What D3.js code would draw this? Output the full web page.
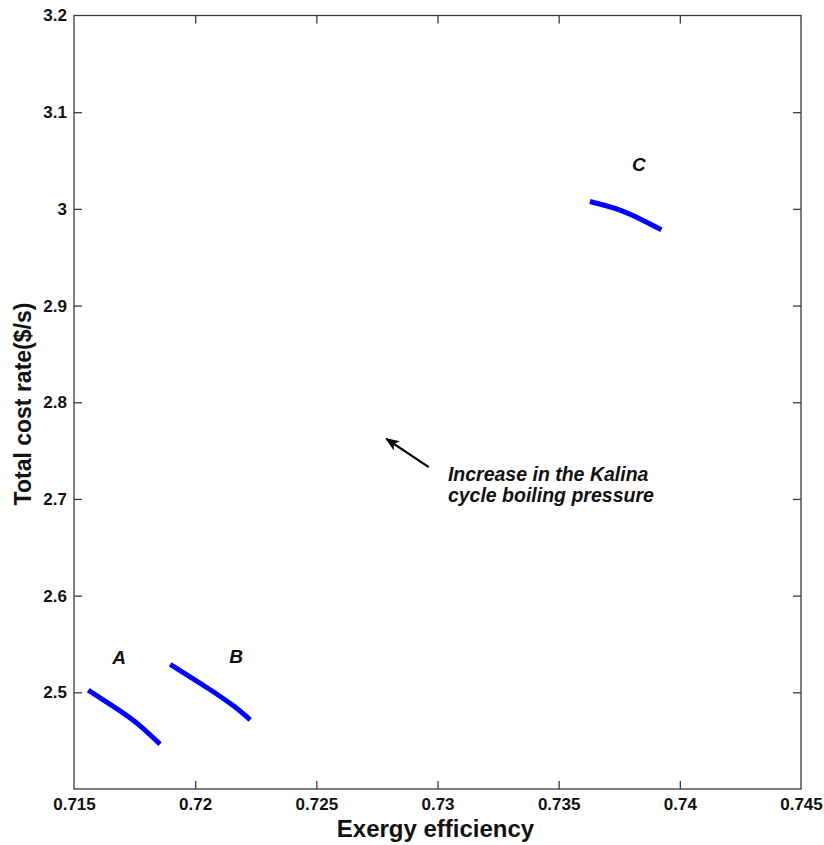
<!DOCTYPE html>
<html>
<head>
<meta charset="utf-8">
<script src="https://cdn.jsdelivr.net/npm/d3@7"></script>
<style>
  body { margin: 0; background: #fff; }
  text { font-family: "Liberation Sans", Arial, sans-serif; }
</style>
</head>
<body>
<svg id="mainsvg" width="824" height="845"></svg>
<script>
// data
let curveA = [[0.71559, 2.5022], [0.7169, 2.4808], [0.71773, 2.4653], [0.71855, 2.4464]];
let curveB = [[0.71897, 2.529], [0.72048, 2.505], [0.72158, 2.486], [0.72227, 2.4715]];
let curveC = [[0.73629, 3.0076], [0.73756, 2.9985], [0.73853, 2.9875], [0.73924, 2.9784]];
let curves = [curveA, curveB, curveC];
let curveLabels = [
    {name: "A", x: 0.71686, y: 2.536},
    {name: "B", x: 0.72169, y: 2.537},
    {name: "C", x: 0.73831, y: 3.0456}
];
let xTicks = [0.715, 0.72, 0.725, 0.73, 0.735, 0.74, 0.745];
let yTicks = [2.5, 2.6, 2.7, 2.8, 2.9, 3, 3.1, 3.2];
let arrowFrom = [0.72964, 2.7329];
let arrowTo = [0.72789, 2.7622];
let noteLines = ["Increase in the Kalina", "cycle boiling pressure"];
let noteAt = [0.73043, 2.7185];

let svg = d3.select("#mainsvg");
let plotL = 74, plotR = 801, plotT = 15.5, plotB = 789;

let x = d3.scaleLinear().domain([0.715, 0.745]).range([plotL, plotR]);
let y = d3.scaleLinear().domain([2.4, 3.2]).range([plotB, plotT]);

let axisColor = "#3a3a3a";
let tickLen = 8;

// frame
svg.append("rect")
    .attr("x", plotL).attr("y", plotT)
    .attr("width", plotR - plotL).attr("height", plotB - plotT)
    .attr("fill", "none").attr("stroke", axisColor).attr("stroke-width", 1.3);

// axes (ticks pointing inward, mirrored on top/right)
let fmt = d => String(+d.toFixed(3));
let gx = svg.append("g").attr("transform", "translate(0," + plotB + ")")
    .call(d3.axisBottom(x).tickValues(xTicks).tickSize(-tickLen).tickPadding(9).tickFormat(fmt));
let gxt = svg.append("g").attr("transform", "translate(0," + plotT + ")")
    .call(d3.axisTop(x).tickValues(xTicks).tickSize(-tickLen).tickFormat(""));
let gy = svg.append("g").attr("transform", "translate(" + plotL + ",0)")
    .call(d3.axisLeft(y).tickValues(yTicks).tickSize(-tickLen).tickPadding(7).tickFormat(fmt));
let gyr = svg.append("g").attr("transform", "translate(" + plotR + ",0)")
    .call(d3.axisRight(y).tickValues(yTicks).tickSize(-tickLen).tickFormat(""));

[gx, gxt, gy, gyr].forEach(g => {
    g.select(".domain").remove();
    g.selectAll(".tick line").attr("stroke", axisColor).attr("stroke-width", 1.3);
    g.selectAll(".tick text")
        .attr("fill", "#111")
        .style("font-family", "'Liberation Sans', Arial, sans-serif")
        .style("font-size", "17px")
        .style("font-weight", "bold");
});
// end ticks sit on the frame corners, hide them
gx.selectAll(".tick line").filter(d => d === 0.715 || d === 0.745).remove();
gxt.selectAll(".tick line").filter(d => d === 0.715 || d === 0.745).remove();
gy.selectAll(".tick line").filter(d => d === 3.2).remove();
gyr.selectAll(".tick line").filter(d => d === 3.2).remove();

// curves
let line = d3.line().x(d => x(d[0])).y(d => y(d[1])).curve(d3.curveNatural);
svg.append("g").selectAll("path").data(curves).enter()
    .append("path")
    .attr("d", line)
    .attr("fill", "none")
    .attr("stroke", "#0000ff")
    .attr("stroke-width", 5)
    .attr("stroke-linecap", "butt");

// curve labels
svg.append("g").selectAll("text").data(curveLabels).enter()
    .append("text")
    .attr("x", d => x(d.x))
    .attr("y", d => y(d.y))
    .attr("text-anchor", "middle")
    .attr("dominant-baseline", "central")
    .style("font-size", "19px")
    .style("font-weight", "bold")
    .style("font-style", "italic")
    .attr("fill", "#111")
    .text(d => d.name);

// arrow
svg.append("defs").append("marker")
    .attr("id", "arrowhead")
    .attr("markerUnits", "userSpaceOnUse")
    .attr("viewBox", "0 0 10 10")
    .attr("refX", 9).attr("refY", 5)
    .attr("markerWidth", 14).attr("markerHeight", 14)
    .attr("orient", "auto")
    .append("path").attr("d", "M0,1 L10,5 L0,9 L2.5,5 Z").attr("fill", "#000");
svg.append("line")
    .attr("x1", x(arrowFrom[0])).attr("y1", y(arrowFrom[1]))
    .attr("x2", x(arrowTo[0])).attr("y2", y(arrowTo[1]))
    .attr("stroke", "#000").attr("stroke-width", 2.2)
    .attr("marker-end", "url(#arrowhead)");

// note
let note = svg.append("text")
    .attr("x", x(noteAt[0])).attr("y", y(noteAt[1]))
    .style("font-size", "19.5px")
    .style("font-weight", "bold")
    .style("font-style", "italic")
    .attr("fill", "#111");
note.selectAll("tspan").data(noteLines).enter()
    .append("tspan")
    .attr("x", x(noteAt[0]))
    .attr("dy", (d, i) => i === 0 ? 0 : 21)
    .text(d => d);

// axis titles
svg.append("text")
    .attr("x", (plotL + plotR) / 2 - 2).attr("y", 837)
    .attr("text-anchor", "middle")
    .style("font-size", "24px").style("font-weight", "bold")
    .attr("fill", "#111")
    .text("Exergy efficiency");
svg.append("text")
    .attr("transform", "translate(31,404) rotate(-90)")
    .attr("text-anchor", "middle")
    .style("font-size", "23px").style("font-weight", "bold")
    .attr("fill", "#111")
    .text("Total cost rate($/s)");
</script>
</body>
</html>
